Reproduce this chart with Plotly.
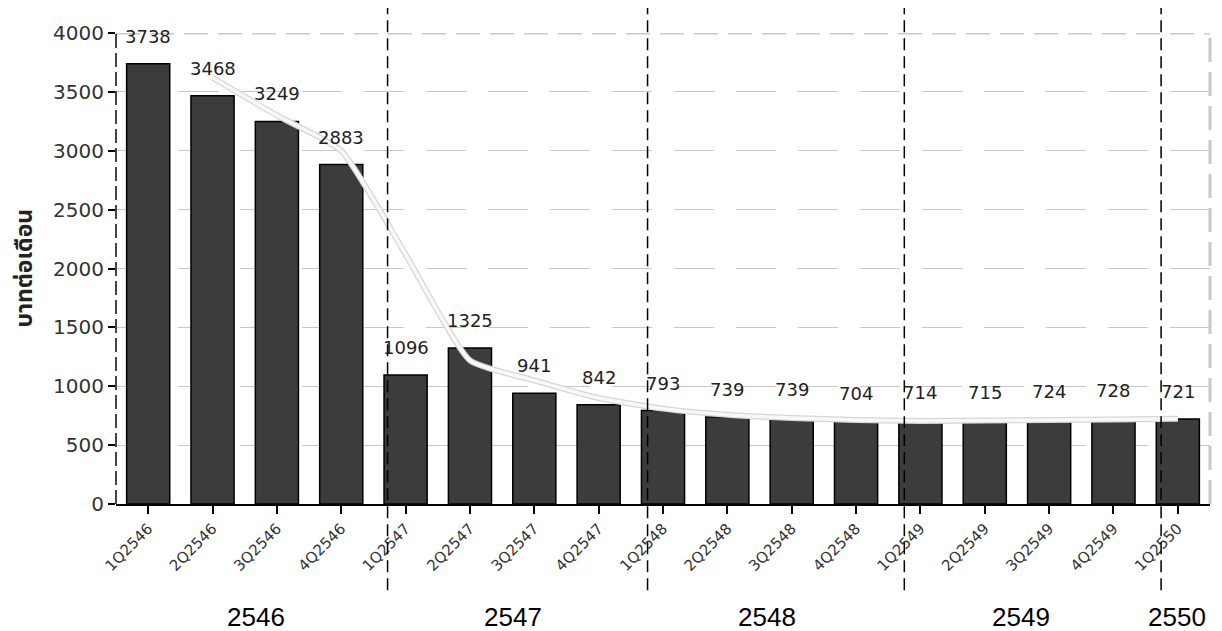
import plotly.graph_objects as go

quarters = ["1Q2546", "2Q2546", "3Q2546", "4Q2546", "1Q2547", "2Q2547", "3Q2547", "4Q2547",
            "1Q2548", "2Q2548", "3Q2548", "4Q2548", "1Q2549", "2Q2549", "3Q2549", "4Q2549", "1Q2550"]
values = [3738, 3468, 3249, 2883, 1096, 1325, 941, 842, 793, 739, 739, 704, 714, 715, 724, 728, 721]
trend_x = quarters[1:]
trend_y = [3620, 3300, 3000, 2120, 1220, 1050, 900, 810, 757, 730, 713, 705, 710, 713, 718, 723]
years = ["2546", "2547", "2548", "2549", "2550"]
year_pos = [1.68, 5.67, 9.62, 13.56, 15.99]
year_breaks = [3.72, 7.76, 11.75, 15.74]
y_ticks = [0, 500, 1000, 1500, 2000, 2500, 3000, 3500, 4000]
y_title = "บาทต่อเดือน"

FONT = "DejaVu Sans, sans-serif"
FONT2 = "Liberation Sans, Arial, sans-serif"
idx = list(range(len(quarters)))

fig = go.Figure()
fig.add_trace(go.Bar(
    x=idx, y=values, width=0.67,
    marker=dict(color="#3c3c3c", line=dict(color="#000000", width=1.5)),
    hoverinfo="skip",
))
tidx = idx[1:]
fig.add_trace(go.Scatter(x=tidx, y=trend_y, mode="lines",
                         line=dict(color="#d6d6d6", width=6, shape="spline", smoothing=0.5),
                         hoverinfo="skip"))
fig.add_trace(go.Scatter(x=tidx, y=trend_y, mode="lines",
                         line=dict(color="#f8f8f8", width=3.5, shape="spline", smoothing=0.5),
                         hoverinfo="skip"))

annotations = []
for i, v in zip(idx, values):
    annotations.append(dict(x=i, y=v, xref="x", yref="y", text=str(v), showarrow=False,
                            yanchor="bottom", yshift=15,
                            font=dict(family=FONT, size=18, color="#222222")))
for yr, p in zip(years, year_pos):
    annotations.append(dict(x=p, y=-0.24, xref="x", yref="paper", text=yr, showarrow=False,
                            xanchor="center", yanchor="middle",
                            font=dict(family=FONT2, size=26, color="#000000")))
annotations.append(dict(x=-0.084, y=0.50, xref="paper", yref="paper", text="<b>" + y_title + "</b>",
                        showarrow=False, textangle=-90, xanchor="center", yanchor="middle",
                        font=dict(family="Noto Sans Thai, Tahoma, Noto Sans, sans-serif", size=23, color="#222222")))

shapes = []
shapes.append(dict(type="line", xref="paper", yref="y", x0=0, x1=1, y0=4000, y1=4000,
                   line=dict(color="#c8c8c8", width=3, dash="24px,10px"), layer="below"))
shapes.append(dict(type="line", xref="paper", yref="paper", x0=1, x1=1, y0=0, y1=1,
                   line=dict(color="#c8c8c8", width=3, dash="24px,10px"), layer="below"))
shapes.append(dict(type="line", xref="paper", yref="paper", x0=0, x1=0, y0=0, y1=1,
                   line=dict(color="#444444", width=2, dash="14px,5px"), layer="above"))
for b in year_breaks:
    shapes.append(dict(type="line", xref="x", yref="paper", x0=b, x1=b, y0=-0.183, y1=1.053,
                       line=dict(color="#000000", width=1.5, dash="12px,6px"), layer="above"))

fig.update_layout(
    width=1214, height=623,
    margin=dict(l=108, r=12, t=25, b=127),
    paper_bgcolor="white", plot_bgcolor="white",
    showlegend=False,
    annotations=annotations, shapes=shapes,
    font=dict(family=FONT, color="#333333"),
)
fig.update_xaxes(
    range=[-0.5, 16.5], tickmode="array", tickvals=idx, ticktext=quarters,
    tickangle=-45, tickfont=dict(family=FONT, size=15, color="#333333"),
    showline=True, linecolor="#000000", linewidth=2,
    ticks="outside", ticklen=8, tickcolor="#000000", tickwidth=1.5,
    showgrid=False, zeroline=False, automargin=False,
)
fig.update_yaxes(
    range=[0, 4000], tickvals=y_ticks,
    tickfont=dict(family=FONT, size=20, color="#333333"),
    ticks="outside", ticklen=7, tickcolor="#000000", tickwidth=1.5,
    showgrid=True, gridcolor="#c8c8c8", gridwidth=1.2, griddash="40px,22px",
    zeroline=False, showline=False, automargin=False,
)
fig.write_html("out.html")
